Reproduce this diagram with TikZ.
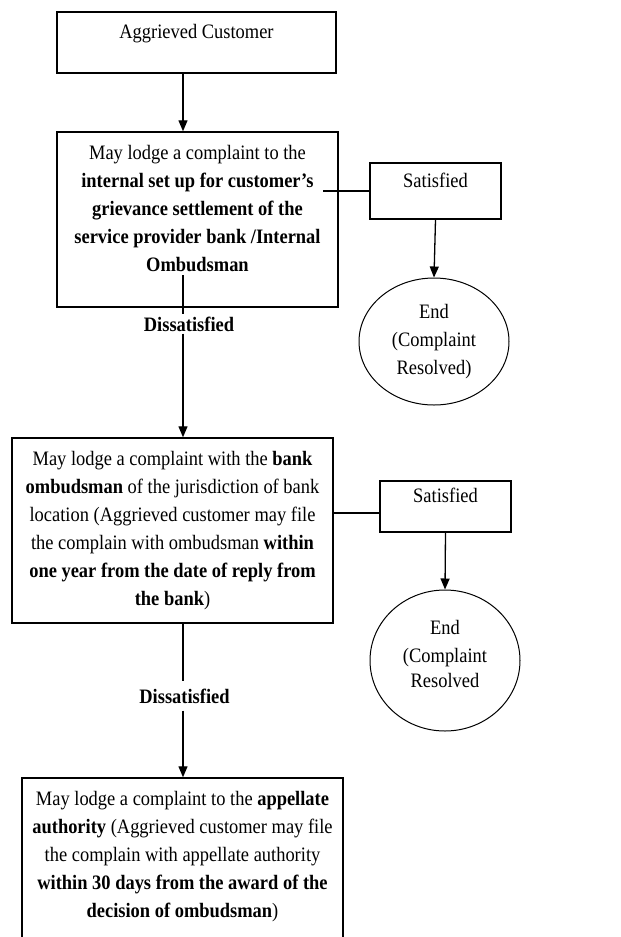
\documentclass[tikz,border=0pt]{standalone}
\usepackage{fontspec}
\setmainfont{Liberation Serif}[FakeStretch=0.9]
\usetikzlibrary{calc, arrows.meta, positioning, shapes.geometric}

\begin{document}
\begin{tikzpicture}[x=1pt, y=-1pt, font=\fontsize{20.5}{28}\selectfont]
      % Styles
      \tikzset{stepbox/.style={draw, line width=1.4pt, rectangle, align=center, inner sep=4pt}}
      \tikzset{endnode/.style={draw, line width=1pt, ellipse, align=center, inner sep=0pt}}
      \tikzset{choice/.style={font=\fontsize{20.5}{28}\selectfont\bfseries, inner xsep=2pt}}
      \tikzset{flow/.style={line width=1.3pt, -{Triangle[width=9pt, length=11pt]}}}
      \tikzset{plain/.style={line width=1.3pt}}

      \useasboundingbox (0,0) rectangle (621,937);
      \clip (0,0) rectangle (621,937);
      \fill[white] (0,0) rectangle (621,937);

      % Helper coordinates for the main column
      \coordinate (spine) at (183,0);
      \coordinate (stubA) at (183,275);
      \coordinate (stubB) at (323,191);

      % --- Main column ---
      \node[stepbox, minimum width=279, minimum height=61] (cust) at (196.5,42.5)
            {Aggrieved Customer\\[-14pt]\strut};
      \node[stepbox, minimum width=281, minimum height=175] (lodge1) at (197.5,219.5)
            {May lodge a complaint to the\\ \textbf{internal set up for customer's}\\
             \textbf{grievance settlement of the}\\ \textbf{service provider bank /Internal}\\
             \textbf{Ombudsman}\\[-14pt]\strut};
      \node[choice, inner ysep=2pt] (dis1) at (189,324) {Dissatisfied};
      \node[stepbox, minimum width=321, minimum height=185] (lodge2) at (172.5,530.5)
            {May lodge a complaint with the \textbf{bank}\\
             \textbf{ombudsman} of the jurisdiction of bank\\
             location (Aggrieved customer may file\\
             the complain with ombudsman \textbf{within}\\
             \textbf{one year from the date of reply from}\\
             \textbf{the bank})};
      \node[choice, inner ysep=7pt] (dis2) at (184.5,696) {Dissatisfied};
      \node[stepbox, minimum width=321, minimum height=190] (lodge3) at (182.5,873)
            {May lodge a complaint to the \textbf{appellate}\\
             \textbf{authority} (Aggrieved customer may file\\
             the complain with appellate authority\\
             \textbf{within 30 days from the award of the}\\
             \textbf{decision of ombudsman})\\ \strut};

      % --- Side branches ---
      \node[stepbox, minimum width=131, minimum height=56] (sat1) at (435.5,191) {Satisfied\\[-14pt]\strut};
      \node[endnode, minimum width=150, minimum height=127] (end1) at (434,341.5)
            {End\\ (Complaint\\ Resolved)};
      \node[stepbox, minimum width=131, minimum height=51] (sat2) at (445.5,506.5) {Satisfied\\[-14pt]\strut};
      \node[endnode, minimum width=150, minimum height=141] (end2) at (445,660.5)
            {End\\ (Complaint\\[-3pt] Resolved\\[-24pt]\strut};

      % --- Connectors ---
      \draw[flow] (cust.south -| spine) -- (lodge1.north -| spine);
      \draw[plain] (stubA) -- (dis1.north -| spine);
      \draw[flow] (dis1.south -| spine) -- (lodge2.north -| spine);
      \draw[plain] (lodge2.south -| spine) -- (dis2.north -| spine);
      \draw[flow] (dis2.south -| spine) -- (lodge3.north -| spine);

      \draw[plain] (stubB) -- (sat1.west);
      \draw[flow] (sat1.south) -- (end1.north);
      \draw[plain] ([yshift=-6.5pt]sat2.west -| lodge2.east) -- ([yshift=-6.5pt]sat2.west);
      \draw[flow] (sat2.south) -- (end2.north);
    \end{tikzpicture}
\end{document}
